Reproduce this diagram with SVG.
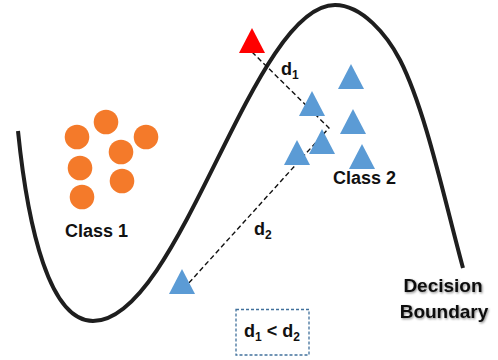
<svg xmlns="http://www.w3.org/2000/svg" width="498" height="360" viewBox="0 0 498 360">
<defs>
<style>
.lbl{font-family:"Liberation Sans",Arial,sans-serif;font-weight:bold;fill:#111;}
.dot{fill:#f47a2a;}
.tri{fill:#5b9bd5;}
.dash{fill:none;stroke:#111;stroke-width:1.4;stroke-dasharray:5,3;}
</style>
<filter id="sh" x="-10%" y="-20%" width="130%" height="150%">
<feDropShadow dx="1" dy="1.2" stdDeviation="0.9" flood-color="#000" flood-opacity="0.45"/>
</filter>
</defs>
<rect width="498" height="360" fill="#fff"/>
<g id="boundary">
<path d="M18,131 C28,230 50,321 93,321 C180,321 252,5 335,5 C362,5 387,35 400,60 C425.5,110 444,198 463,268" fill="none" stroke="#1e1e1e" stroke-width="4"/>
</g>
<g id="connectors">
<path class="dash" d="M252,52 L329,128 L187,285"/>
</g>
<g id="class1">
<circle class="dot" cx="77" cy="137" r="12.3"/>
<circle class="dot" cx="106" cy="122" r="12.3"/>
<circle class="dot" cx="146" cy="137" r="12.3"/>
<circle class="dot" cx="121" cy="152" r="12.3"/>
<circle class="dot" cx="80" cy="168" r="12.3"/>
<circle class="dot" cx="122" cy="181" r="12.3"/>
<circle class="dot" cx="82" cy="197" r="12.3"/>
<text class="lbl" x="65" y="237" font-size="18">Class 1</text>
</g>
<g id="query">
<polygon points="252,28 265,53 239,53" fill="#ff0000"/>
</g>
<g id="class2">
<polygon class="tri" points="351,64 364,89 338,89"/>
<polygon class="tri" points="312,91 325,116 299,116"/>
<polygon class="tri" points="353,109 366,134 340,134"/>
<polygon class="tri" points="322,129 335,154 309,154"/>
<polygon class="tri" points="297,140 310,165 284,165"/>
<polygon class="tri" points="362,144 375,169 349,169"/>
<polygon class="tri" points="182,269 195,294 169,294"/>
<text class="lbl" x="333" y="184" font-size="18">Class 2</text>
</g>
<g id="d1">
<text class="lbl" x="281" y="75" font-size="18">d<tspan font-size="12" dy="4">1</tspan></text>
</g>
<g id="d2">
<text class="lbl" x="254" y="235" font-size="18">d<tspan font-size="12" dy="4">2</tspan></text>
</g>
<g id="decision">
<text class="lbl" x="443" y="292" font-size="19" text-anchor="middle" filter="url(#sh)">Decision</text>
<text class="lbl" x="444" y="318" font-size="19" text-anchor="middle" filter="url(#sh)">Boundary</text>
</g>
<g id="compare">
<rect x="236" y="309.5" width="73" height="45.5" fill="none" stroke="#41719c" stroke-width="1.3" stroke-dasharray="3,2"/>
<text class="lbl" x="244" y="337" font-size="18">d<tspan font-size="12" dy="4">1</tspan><tspan dy="-4"> &lt; d</tspan><tspan font-size="12" dy="4">2</tspan></text>
</g>
</svg>
